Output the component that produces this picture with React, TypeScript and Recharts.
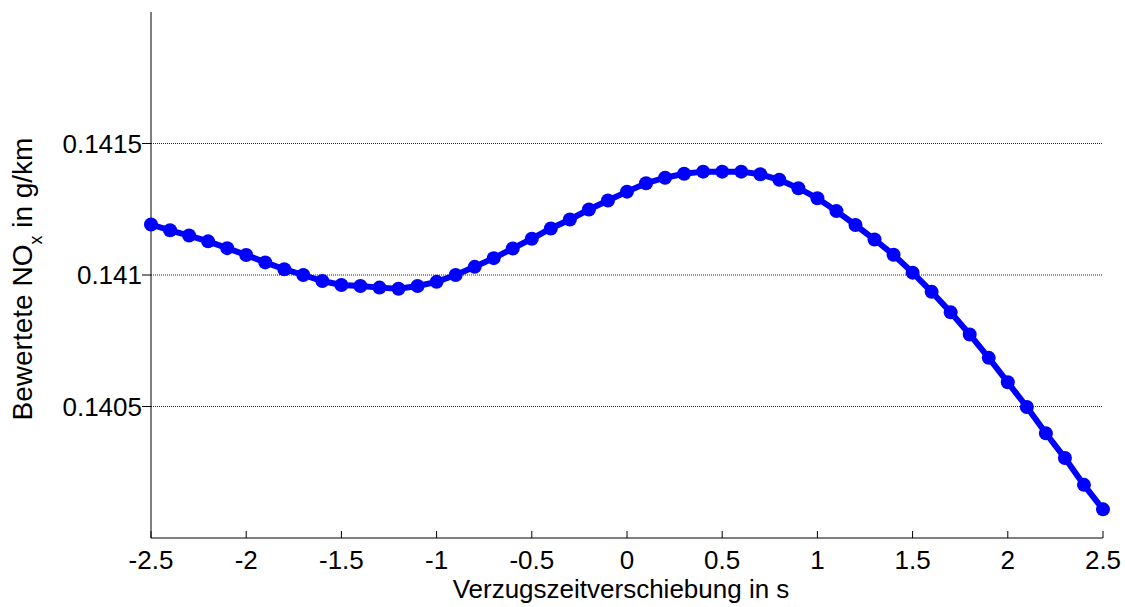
import { CartesianGrid, Line, LineChart, XAxis, YAxis } from "recharts";

// Verzugszeitverschiebung in s
const shift = [
  -2.5, -2.4, -2.3, -2.2, -2.1, -2.0, -1.9, -1.8, -1.7, -1.6, -1.5, -1.4, -1.3,
  -1.2, -1.1, -1.0, -0.9, -0.8, -0.7, -0.6, -0.5, -0.4, -0.3, -0.2, -0.1, 0.0,
  0.1, 0.2, 0.3, 0.4, 0.5, 0.6, 0.7, 0.8, 0.9, 1.0, 1.1, 1.2, 1.3, 1.4, 1.5,
  1.6, 1.7, 1.8, 1.9, 2.0, 2.1, 2.2, 2.3, 2.4, 2.5,
];

// Bewertete NOx in g/km
const nox = [
  0.141192, 0.14117, 0.14115, 0.141128, 0.141102, 0.141076, 0.141048, 0.141022,
  0.141, 0.140977, 0.140962, 0.140958, 0.140952, 0.140948, 0.140958, 0.140974,
  0.141, 0.141031, 0.141064, 0.141101, 0.141138, 0.141177, 0.141211, 0.141249,
  0.141283, 0.141317, 0.141349, 0.14137, 0.141385, 0.141393, 0.141393, 0.141393,
  0.141383, 0.141362, 0.14133, 0.141292, 0.141243, 0.14119, 0.141135, 0.141077,
  0.141009, 0.140936, 0.140858, 0.140774, 0.140685, 0.140592, 0.140498, 0.140398,
  0.140304, 0.140202, 0.140109,
];

const xTicks = [-2.5, -2, -1.5, -1, -0.5, 0, 0.5, 1, 1.5, 2, 2.5];
const yTicks = [0.1405, 0.141, 0.1415];

const data = shift.map((s, i) => ({ s, v: nox[i] }));

const FONT = "'Liberation Sans', Arial, sans-serif";

function XTick(props: any) {
  const { x, y, payload } = props;
  return (
    <g>
      <line x1={x} y1={y} x2={x} y2={y - 7} stroke="#000" strokeWidth={1} />
      <text x={x} y={y + 31} textAnchor="middle" fontSize={26} fill="#000" fontFamily={FONT}>
        {String(payload.value)}
      </text>
    </g>
  );
}

function YLabel() {
  return (
    <text
      transform="translate(32 279) rotate(-90)"
      textAnchor="middle"
      fontSize={28}
      fill="#000"
      fontFamily={FONT}
    >
      Bewertete NO
      <tspan fontSize={18} dy={10}>x</tspan>
      <tspan dy={-10}> in g/km</tspan>
    </text>
  );
}

function XLabel() {
  return (
    <text x={621} y={598} textAnchor="middle" fontSize={26} fill="#000" fontFamily={FONT}>
      Verzugszeitverschiebung in s
    </text>
  );
}

export default function App() {
  return (
    <div style={{ position: "absolute", left: 0, top: 0, width: 1125, height: 607, background: "#fff" }}>
      <LineChart
        width={1125}
        height={607}
        data={data}
        margin={{ top: 12, right: 22, bottom: 0, left: 0 }}
      >
        <CartesianGrid
          vertical={false}
          horizontalValues={yTicks}
          stroke="#222"
          strokeDasharray="1 1"
        />
        <XAxis
          dataKey="s"
          type="number"
          domain={[-2.5, 2.5]}
          ticks={xTicks}
          height={69}
          axisLine={{ stroke: "#000", strokeWidth: 1 }}
          tickLine={false}
          tickSize={0}
          tickMargin={0}
          tick={<XTick />}
          interval={0}
          label={<XLabel />}
        />
        <YAxis
          type="number"
          domain={[0.14, 0.142]}
          ticks={yTicks}
          width={151}
          allowDataOverflow
          interval={0}
          axisLine={{ stroke: "#000", strokeWidth: 1 }}
          tickLine={{ stroke: "#000", strokeWidth: 1 }}
          tickSize={9}
          tickMargin={0}
          tick={{ fontSize: 26, fill: "#000", fontFamily: FONT }}
          tickFormatter={(v: number) => String(v)}
          label={<YLabel />}
        />
        <Line
          dataKey="v"
          type="linear"
          stroke="#0000ff"
          strokeWidth={6}
          dot={{ r: 7, fill: "#0000ff", stroke: "#0000ff", strokeWidth: 0 }}
          activeDot={false}
          isAnimationActive={false}
        />
      </LineChart>
    </div>
  );
}
